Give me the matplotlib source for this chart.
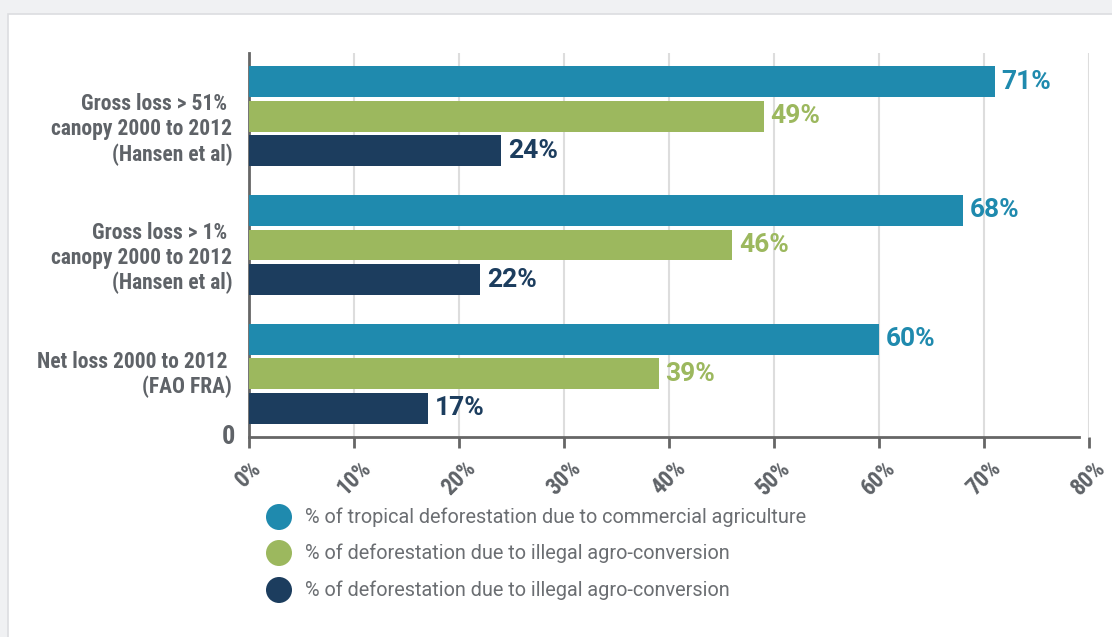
import matplotlib.pyplot as plt
import numpy as np
from matplotlib.patches import Rectangle, Circle

categories = ["Gross loss > 51% \ncanopy 2000 to 2012\n(Hansen et al)",
              "Gross loss > 1% \ncanopy 2000 to 2012\n(Hansen et al)",
              "Net loss 2000 to 2012 \n(FAO FRA)"]
commercial = [71, 68, 60]
illegal = [49, 46, 39]
illegal_2 = [24, 22, 17]
series_names = ["% of tropical deforestation due to commercial agriculture",
                "% of deforestation due to illegal agro-conversion",
                "% of deforestation due to illegal agro-conversion"]
xticks = [0, 10, 20, 30, 40, 50, 60, 70, 80]

colors = ["#1f8aae", "#9cb85e", "#1c3d5e"]
grey = "#5f6368"
cond = ["Roboto Condensed", "Liberation Sans Narrow", "DejaVu Sans"]

fig = plt.figure(figsize=(11.12, 6.37), dpi=100)
fig.patch.set_facecolor("#f0f1f3")

# background layer in pixel coordinates: card + legend markers
bg = fig.add_axes([0, 0, 1, 1], zorder=-10)
bg.set_xlim(0, 1112)
bg.set_ylim(637, 0)
bg.axis("off")
bg.add_patch(Rectangle((8, 14), 1200, 700, facecolor="white",
                       edgecolor="#dcdde0", linewidth=1.2))

ax = fig.add_axes([249 / 1112, 200 / 637, 840 / 1112, 384 / 637])
ax.set_facecolor("none")

y = np.arange(len(categories))
h = 0.24
off = 0.268
all_series = [commercial, illegal, illegal_2]
for i, vals in enumerate(all_series):
    pos = y + (i - 1) * off
    ax.barh(pos, vals, height=h, color=colors[i], zorder=3)
    for p, v in zip(pos, vals):
        ax.text(v + 0.65, p, f"{v}%", va="center", ha="left", color=colors[i],
                fontsize=19, fontweight="bold", family=["Roboto", "DejaVu Sans"])

ax.set_xlim(0, 80)
ax.set_ylim(2.49, -0.49)
ax.set_xticks(xticks)
ax.set_xticklabels([f"{t}%" for t in xticks], rotation=45, ha="center",
                   va="top", family=cond, fontweight="bold", fontsize=16.5,
                   color=grey)
ax.tick_params(axis="x", length=8, width=2, color="#666666", pad=6)
# category labels hang from just below the top of each group
ax.set_yticks(y - 0.178)
ax.set_yticklabels(categories, family=cond, fontweight="bold", fontsize=15.5,
                   color=grey, linespacing=1.17, va="top")
ax.tick_params(axis="y", length=0, pad=12)
ax.grid(axis="x", color="#dddddd", linewidth=1.5, zorder=0)
ax.grid(axis="y", visible=False)
for s in ["top", "right"]:
    ax.spines[s].set_visible(False)
for s in ["left", "bottom"]:
    ax.spines[s].set_color("#666666")
    ax.spines[s].set_linewidth(2)
ax.spines["bottom"].set_bounds(0, 79)
ax.text(-0.016, 0, "0", transform=ax.transAxes, ha="right", va="center",
        family=cond, fontweight="bold", fontsize=19, color=grey)

# legend
leg_y = [517, 553, 590]
for i, name in enumerate(series_names):
    bg.add_patch(Circle((279, leg_y[i]), 13, facecolor=colors[i], edgecolor="none"))
    bg.text(305, leg_y[i], name, ha="left", va="center", fontsize=14.3,
            color="#6b6e72", family=["Roboto", "DejaVu Sans"])

fig.savefig("out.png", dpi=100, facecolor=fig.get_facecolor())
